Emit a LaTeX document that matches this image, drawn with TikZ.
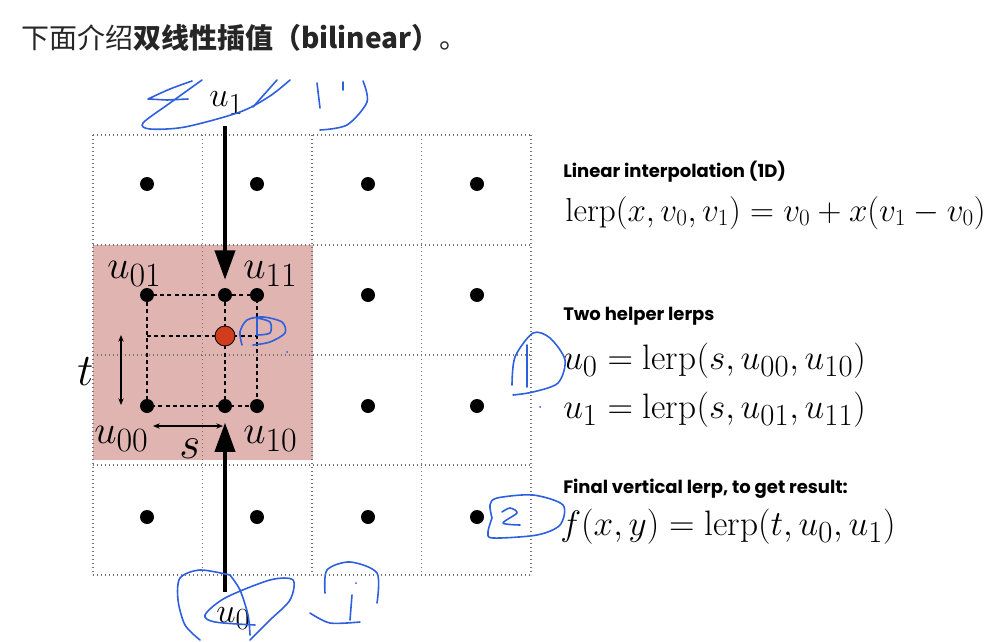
\documentclass[tikz,border=0pt]{standalone}
\usepackage{fix-cm}
\usepackage{amsmath}
\usepackage{fontspec}
\newfontfamily\cjk{Noto Sans CJK SC}
\newfontfamily\headfont{Poppins}
\usetikzlibrary{arrows.meta,positioning,backgrounds}
\DeclareMathSizes{30}{30}{25.5}{19}
\DeclareMathSizes{26}{26}{23}{18}
\DeclareMathSizes{26.5}{26.5}{23}{18}
\definecolor{cellpink}{RGB}{224,180,176}
\definecolor{hitred}{RGB}{208,60,28}
\definecolor{inkblue}{RGB}{45,95,222}
\newcommand{\lerpop}{\mathrm{lerp}}
\tikzset{
gridline/.style={draw=black!55,dotted,line width=1pt},
guide/.style={draw=black,dash pattern=on 3pt off 2.4pt,line width=1.1pt},
dot/.style={circle,fill=black,inner sep=0pt,minimum size=10.5pt},
hitdot/.style={circle,fill=hitred,draw=black,line width=0.6pt,inner sep=0pt,minimum size=15pt},
bigarrow/.style={-{Triangle[length=22pt,width=15pt]},line width=3pt},
dimarrow/.style={{Stealth[length=5pt,width=4pt]}-{Stealth[length=5pt,width=4pt]},line width=0.8pt},
cornerlab/.style={anchor=base west,inner sep=0pt,font=\fontsize{30}{36}\selectfont},
varlab/.style={anchor=base west,inner sep=0pt,font=\fontsize{34}{40}\selectfont},
sweeplab/.style={anchor=base west,inner sep=0pt,font=\fontsize{26}{30}\selectfont},
heading/.style={anchor=base west,inner sep=0pt,font=\headfont\bfseries\fontsize{13.5}{16}\selectfont},
formula/.style={anchor=base west,inner sep=0pt,font=\fontsize{24.9}{30}\selectfont},
ink/.style={draw=inkblue,line width=1.2pt,line cap=round,line join=round}
}
\begin{document}
\begin{tikzpicture}[x=0.75pt,y=-0.75pt]
\useasboundingbox (0,0) rectangle (996,642);
% title line
\node[anchor=base west,inner sep=0pt,text=black!85,font=\cjk\fontsize{21}{25}\selectfont] (title) at (21,49)
 {下面介绍\textbf{双线性插值（bilinear）}。};
% sample dots on the grid
\foreach \x [count=\i] in {147,257,368,477}
 \foreach \y [count=\j] in {184,295,406,517}
  \node[dot] (g-\i-\j) at (\x,\y) {};
\node[dot] (m1) at (225,295) {};
\node[dot] (m0) at (225,406) {};
\node[hitdot] (hit) at (225,336) {};
% labels
\node[cornerlab] (u01) at (107,278) {$u_{01}$};
\node[cornerlab] (u11) at (243,278) {$u_{11}$};
\node[cornerlab] (u00) at (94,443) {$u_{00}$};
\node[cornerlab] (u10) at (243,443) {$u_{10}$};
\node[varlab] (slab) at (179,458) {$s$};
\node[varlab] (tlab) at (77,385) {$t$};
\node[sweeplab] (u1lab) at (209,107) {$u_1$};
\node[sweeplab] (u0lab) at (216,622) {$u_0$};
\begin{scope}[on background layer]
\fill[cellpink] (93,245) rectangle (313,460);
\foreach \x in {93,202.5,312,421.5,531}
 \draw[gridline] (\x,135) -- (\x,575);
\foreach \y in {135,245,355,465,575}
 \draw[gridline] (93,\y) -- (531,\y);
\draw[guide] (g-1-2.center) rectangle (g-2-3.center);
\draw[guide] (m1.center) -- (m0.center);
\draw[guide] (g-1-2.center |- hit) -- (g-2-2.center |- hit);
\end{scope}
% the two sweeps
\draw[bigarrow,shorten <=8pt,shorten >=6pt] (u1lab.south -| m1) -- (m1.north);
\draw[bigarrow,shorten <=11pt,shorten >=7pt] (u0lab.north -| m0) -- (m0.south);
\coordinate (ttop) at (121,335);
\coordinate (tbot) at (121,405);
\coordinate (sleft) at (153,426);
\coordinate (sright) at (223,426);
\draw[dimarrow] (ttop) -- (tbot);
\draw[dimarrow] (sleft) -- (sright);
% right column
\node[heading] (h1) at (563,177) {Linear interpolation (1D)};
\node[formula] (f1) at (565,221) {$\lerpop(x,v_0,v_1)=v_0+x(v_1-v_0)$};
\node[heading] (h2) at (563,320) {Two helper lerps};
\node[formula,font=\fontsize{26.5}{30}\selectfont] (f2) at (563,369) {$u_0=\lerpop(s,u_{00},u_{10})$};
\node[formula,font=\fontsize{26.5}{30}\selectfont] (f3) at (563,418) {$u_1=\lerpop(s,u_{01},u_{11})$};
\node[heading] (h3) at (563,493) {Final vertical lerp, to get result:};
\node[formula,font=\fontsize{26.5}{30}\selectfont] (f4) at (560,535) {$f(x,y)=\lerpop(t,u_0,u_1)$};
% pen marks
\draw[ink] plot[smooth] coordinates {(192,81) (170,89) (148,99)} -- (167,100) -- (188,99);
\draw[ink] plot[smooth] coordinates {(202,80) (170,103) (143,123) (150,129) (185,127) (240,112) (270,96) (290,80)};
\draw[ink] (253,107) -- (277,80);
\draw[ink] (317,83) -- (320,108);
\draw[ink] (343,82) -- (343,90);
\draw[ink] plot[smooth] coordinates {(363,81) (367,102) (347,125) (320,130)};
\draw[ink] plot[smooth] coordinates {(230,575) (200,570) (180,578) (178,600) (185,625) (200,640)};
\draw[ink] plot[smooth] coordinates {(230,575) (240,590) (248,615) (250,635)};
\draw[ink] plot[smooth] coordinates {(255,625) (215,622) (205,615) (225,598) (270,580) (293,580) (290,600) (270,620) (250,640)};
\draw[ink] plot[smooth] coordinates {(325,593) (327,570) (350,562) (377,573) (377,603)};
\draw[ink] plot[smooth] coordinates {(310,613) (330,623) (360,622)};
\draw[ink] (352,595) -- (350,620);
\fill[inkblue] (356,583) circle[radius=1];
\draw[ink] plot[smooth] coordinates {(512,385) (515,357) (533,333) (550,338) (565,360) (558,383) (533,392) (513,395)};
\draw[ink] (527,345) -- (527,387);
\fill[inkblue] (540,407) circle[radius=1];
\draw[ink] plot[smooth] coordinates {(492,518) (490,505) (497,498) (533,495) (563,505) (560,525) (537,535) (493,538) (488,532) (492,518)};
\draw[ink] plot[smooth] coordinates {(502,512) (510,508) (517,513) (503,523) (520,525)};
\draw[ink] plot[smooth] coordinates {(242,345) (240,332) (247,320) (263,317) (282,322) (285,333) (270,342) (253,345)};
\draw[ink] plot[smooth] coordinates {(257,318) (270,322) (270,333) (257,335)};
\draw[ink] (257,318) -- (257,335);
\fill[inkblue] (287,352) circle[radius=1];
\end{tikzpicture}
\end{document}
